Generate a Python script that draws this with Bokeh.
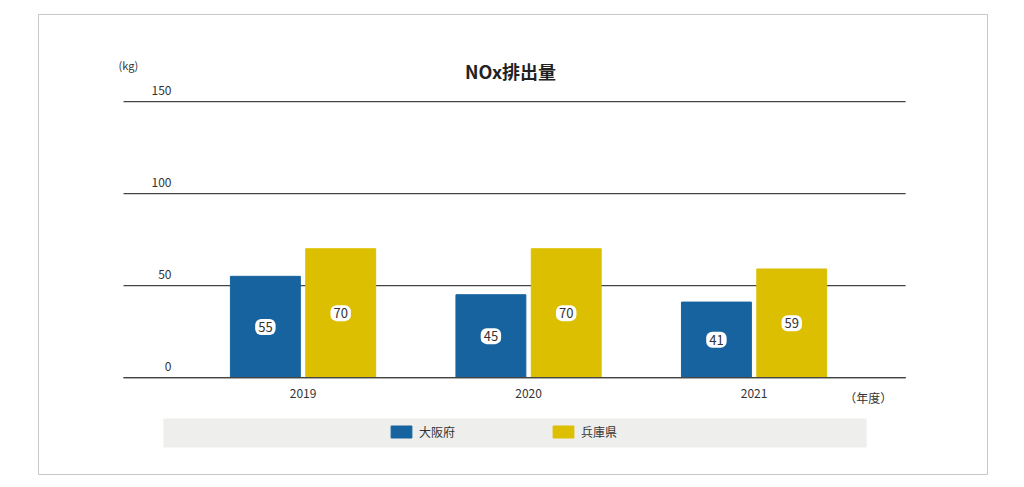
from bokeh.plotting import figure
from bokeh.models import Range1d, ColumnDataSource, Legend, LegendItem
from bokeh.core.properties import value
from bokeh.transform import dodge
from bokeh.embed import file_html
from bokeh.resources import INLINE

years = ["2019", "2020", "2021"]
osaka = [55, 45, 41]
hyogo = [70, 70, 59]
yticks = [0, 50, 100, 150]
series_names = ["大阪府", "兵庫県"]
colors = ["#17639f", "#dbbf00"]
title_text = "NOx排出量"
y_unit = "(kg)"
x_unit = "（年度）"

FONT = "Noto Sans CJK JP"
W, H = 1024, 487

p = figure(width=W, height=H, output_backend="svg", toolbar_location=None,
           x_range=Range1d(-1.173, 3.035), y_range=Range1d(-52.7, 197.3),
           x_axis_type=None, y_axis_type=None,
           min_border_left=38, min_border_right=W - 987,
           min_border_top=14, min_border_bottom=H - 474)
p.grid.visible = False
p.outline_line_color = "#c8c8c8"
p.outline_line_width = 1
p.background_fill_color = "white"
p.border_fill_color = "white"

xs = list(range(len(years)))
src = ColumnDataSource(dict(x=xs, year=years, osaka=osaka, hyogo=hyogo,
                            osaka_mid=[v / 2 for v in osaka],
                            hyogo_mid=[v / 2 for v in hyogo],
                            osaka_lbl=[str(v) for v in osaka],
                            hyogo_lbl=[str(v) for v in hyogo]))

xL, xR = -0.796, 2.672

# gridlines
gsrc = ColumnDataSource(dict(y=yticks, lbl=[str(t) for t in yticks]))
p.segment(x0=xL, x1=xR, y0="y", y1="y", source=gsrc, line_color="#444444", line_width=1.2)
p.text(x=xL, y="y", text="lbl", source=gsrc, x_offset=48, y_offset=-7,
       text_align="right", text_baseline="bottom", text_font=value(FONT),
       text_font_size="12px", text_color="#333333")

off = 0.167
bw = 0.31
r1 = p.vbar(x=dodge("x", -off), top="osaka", bottom=0, width=bw, source=src,
            fill_color=colors[0], line_color=colors[0])
r2 = p.vbar(x=dodge("x", off), top="hyogo", bottom=0, width=bw, source=src,
            fill_color=colors[1], line_color=colors[1])

# baseline on top of bars
p.segment(x0=xL, x1=xR, y0=0, y1=0, line_color="#444444", line_width=1.2)

lbl_kw = dict(text_align="center", text_baseline="middle", text_font=value(FONT),
              text_font_size="13px", text_color="#333333",
              background_fill_color="white", border_radius=6, padding=3)
p.text(x=dodge("x", -off), y="osaka_mid", text="osaka_lbl", source=src, **lbl_kw)
p.text(x=dodge("x", off), y="hyogo_mid", text="hyogo_lbl", source=src, **lbl_kw)

# category labels
p.text(x="x", y=0, text="year", source=src, y_offset=11, text_align="center",
       text_baseline="top", text_font=value(FONT), text_font_size="12px", text_color="#333333")
p.text(x=[2.40], y=[0], text=[x_unit], y_offset=11, text_align="left",
       text_baseline="top", text_font=value(FONT), text_font_size="12px", text_color="#333333")
p.text(x=[-0.818], y=[170], text=[y_unit], text_align="left",
       text_baseline="middle", text_font=value(FONT), text_font_size="11px", text_color="#333333")

# title
p.text(x=[0.92], y=[166.8], text=[title_text], text_align="center", text_baseline="middle",
       text_font=value(FONT), text_font_size="18px", text_font_style="bold", text_color="#222222")

# legend background box
p.quad(left=[-0.619], right=[2.499], top=[-22.3], bottom=[-38.0],
       fill_color="#eeeeec", line_color=None)

legend = Legend(items=[LegendItem(label=series_names[0], renderers=[r1]),
                       LegendItem(label=series_names[1], renderers=[r2])],
                orientation="horizontal", location=(350, 34),
                background_fill_alpha=0, border_line_alpha=0,
                padding=0, margin=0, spacing=95,
                glyph_width=26, glyph_height=15, label_height=15, label_standoff=5,
                label_text_font=FONT, label_text_font_size="12px",
                label_text_color="#333333")
p.add_layout(legend)

open("out.html", "w").write(file_html(p, INLINE))
